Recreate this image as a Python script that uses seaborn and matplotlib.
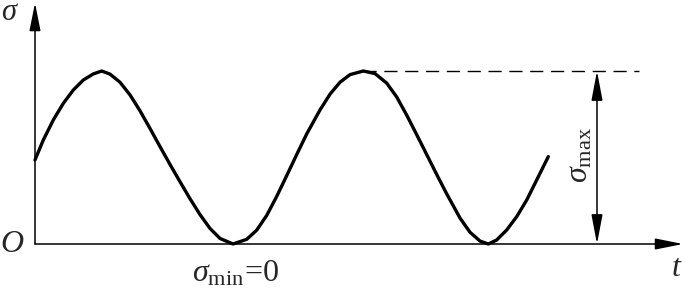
import matplotlib
matplotlib.use("Agg")
import matplotlib.pyplot as plt
import seaborn as sns
import pandas as pd
from matplotlib.patches import FancyArrowPatch

# ---- data (t in arbitrary time units, sigma in units of sigma_max) ----
t_values = [0, 8.3, 18.3, 28.3, 38.3, 48.3, 58.3, 66.7, 75, 85, 95, 105, 115, 125, 135,
            145, 155, 165, 175, 185, 198, 211.7, 221.7, 231.7, 241.7, 251.7, 261.7, 271.7,
            285, 295, 305, 315, 328.3, 340, 351.7, 361.7, 371.7, 381.7, 391.7, 401.7, 411.7,
            425, 435, 445, 453.3, 461.7, 471.7, 481.7, 491.7, 501.7, 513.3]
sigma_values = [0.486, 0.601, 0.717, 0.813, 0.890, 0.948, 0.983, 1.0, 0.982, 0.935, 0.862,
                0.770, 0.668, 0.563, 0.460, 0.360, 0.262, 0.170, 0.090, 0.032, 0.0, 0.027,
                0.080, 0.165, 0.275, 0.395, 0.517, 0.636, 0.775, 0.866, 0.935, 0.979, 1.0,
                0.985, 0.930, 0.850, 0.745, 0.632, 0.517, 0.402, 0.290, 0.150, 0.068, 0.017,
                0.0, 0.023, 0.081, 0.158, 0.254, 0.370, 0.505]
sigma_max = 1.0
sigma_min = 0.0
t_peak = 328.3          # second peak, where the dashed sigma_max line starts
t_dash_end = 604
t_dim = 562             # position of the sigma_max dimension arrow
t_axis_end = 648
sigma_axis_end = 1.393

labels = {"y": r"$\sigma$", "x": r"$t$", "origin": r"$O$",
          "min": r"$\sigma_{\mathrm{min}}\!=\!0$", "max": r"$\sigma_{\mathrm{max}}$"}

sns.set_theme(style="white")
plt.rcParams["mathtext.fontset"] = "custom"
plt.rcParams["mathtext.rm"] = "Liberation Serif"
plt.rcParams["mathtext.it"] = "Liberation Serif:italic"
plt.rcParams["font.family"] = ["Liberation Serif", "DejaVu Serif"]

fig = plt.figure(figsize=(6.85, 2.88), dpi=100)
ax = fig.add_axes([0, 0, 1, 1])
ax.set_xlim(-35, 650)
ax.set_ylim(-44 / 173, 244 / 173)
ax.axis("off")

df = pd.DataFrame({"t": t_values, "sigma": sigma_values})
sns.lineplot(data=df, x="t", y="sigma", ax=ax, color="black", linewidth=2.4,
             sort=False, estimator=None)

# axes with arrows
ax.add_patch(FancyArrowPatch((0, 0), (0, sigma_axis_end), arrowstyle="-|>,head_length=17,head_width=3.4",
                             mutation_scale=1, color="black", lw=1.1, shrinkA=0, shrinkB=0))
ax.add_patch(FancyArrowPatch((0, 0), (t_axis_end, 0), arrowstyle="-|>,head_length=17,head_width=3.4",
                             mutation_scale=1, color="black", lw=1.1, shrinkA=0, shrinkB=0))

# dashed sigma_max level
ax.plot([t_peak, t_dash_end], [sigma_max, sigma_max], color="black", lw=1.0,
        dashes=(9.5, 5.5))

# dimension arrow
ax.add_patch(FancyArrowPatch((t_dim, sigma_min), (t_dim, sigma_max),
                             arrowstyle="<|-|>,head_length=18,head_width=3.4",
                             mutation_scale=1, color="black", lw=1.1, shrinkA=0, shrinkB=0))

ax.text(-25, (244 - 12) / 173, labels["y"], fontsize=22, ha="center", va="center")
ax.text(-23, 0.0, labels["origin"], fontsize=23, ha="center", va="center")
ax.text(642, -0.14, labels["x"], fontsize=23, ha="center", va="center")
ax.text(201, -0.17, labels["min"], fontsize=23, ha="center", va="center")
ax.text(545, (244 - 155) / 173, labels["max"], fontsize=23, ha="center", va="center",
        rotation=90)

fig.savefig("out.png", dpi=100)
